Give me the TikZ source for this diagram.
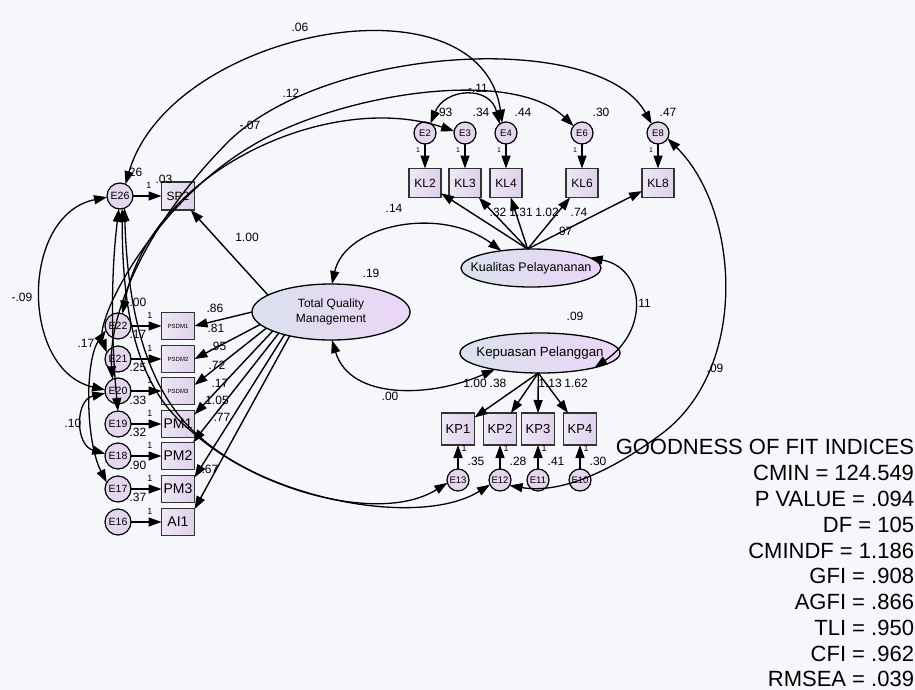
\documentclass[tikz,border=0pt]{standalone}
\usepackage{fontspec}
\setmainfont{Liberation Sans}
\usetikzlibrary{arrows.meta,shapes.geometric}

\definecolor{bg}{RGB}{246,247,251}
\definecolor{boxL}{RGB}{238,232,246}
\definecolor{boxR}{RGB}{222,208,236}
\definecolor{ellL}{RGB}{218,225,238}
\definecolor{ellR}{RGB}{236,214,246}
\definecolor{errfill}{RGB}{228,214,238}

\newcommand{\fsz}[1]{\fontsize{#1}{#1}\selectfont}

\begin{document}
\begin{tikzpicture}[x=1pt,y=-1pt,
  every node/.style={inner sep=0pt, outer sep=0pt},
  err/.style={circle, draw=black, line width=1.2pt, fill=errfill, minimum size=26pt, font=\fsz{10.5}},
  errs/.style={err, minimum size=22pt, font=\fsz{9.5}},
  obs/.style={rectangle, draw=black!80, line width=1.5pt, left color=boxL, right color=boxR, minimum width=33pt, minimum height=27pt},
  lat/.style={ellipse, draw=black, line width=1.3pt, left color=ellL, right color=ellR},
  lbl/.style={font=\fsz{12}},
  one/.style={font=\fsz{9}},
  gof/.style={anchor=east, font=\fsz{22}},
  tip/.style={Triangle[length=13pt,width=9pt]},
  load/.style={line width=1.4pt, -{Triangle[length=13pt,width=9pt]}},
  cov/.style={line width=1.3pt, {Triangle[length=13pt,width=9pt]}-{Triangle[length=13pt,width=9pt]}}
]
\useasboundingbox (0,0) rectangle (915,690);
\fill[bg] (0,0) rectangle (915,690);

% ---------- Total Quality Management indicators ----------
\node[err] (e26) at (120,196) {E26};
\node[obs, minimum height=28pt, font=\fsz{12}] (sp2) at (178,196) {SP2};
\node[err] (e22) at (118,326) {E22};
\node[err] (e21) at (118,359) {E21};
\node[err] (e20) at (118,391) {E20};
\node[err] (e19) at (118,424) {E19};
\node[err] (e18) at (118,456) {E18};
\node[err] (e17) at (118,489) {E17};
\node[err] (e16) at (118,522) {E16};
\node[obs, font=\fsz{6}] (psdm1) at (178,326) {PSDM1};
\node[obs, font=\fsz{6}] (psdm2) at (178,359) {PSDM2};
\node[obs, font=\fsz{6}] (psdm3) at (178,391) {PSDM3};
\node[obs, font=\fsz{14}] (pm1) at (178,424) {PM1};
\node[obs, font=\fsz{14}] (pm2) at (178,456) {PM2};
\node[obs, font=\fsz{14}] (pm3) at (178,489) {PM3};
\node[obs, font=\fsz{14}] (ai1) at (178,522) {AI1};

% ---------- latent variables ----------
\node[lat, minimum width=158pt, minimum height=56pt, align=center,
      font=\fontsize{12}{15}\selectfont] (tqm) at (331,312) {Total Quality\\Management};
\node[lat, minimum width=140pt, minimum height=38pt] (kual) at (531,268) {};
\node[font=\fsz{12.5}] (kualtxt) at (kual) {Kualitas Pelayananan};
\node[lat, minimum width=160pt, minimum height=40pt] (kep) at (540,353) {};
\node[font=\fsz{13.3}] (keptxt) at (kep) {Kepuasan Pelanggan};

% ---------- Kualitas Pelayananan indicators ----------
\foreach \n/\x in {2/425,3/465,4/506,6/582,8/658}{
  \node[obs, minimum width=32pt, minimum height=29pt, font=\fsz{12}] (kl\n) at (\x,183) {KL\n};
  \node[errs] (e\n) at (\x,133) {E\n};
}

% ---------- Kepuasan Pelanggan indicators ----------
\foreach \n/\e/\x in {1/13/458,2/12/500,3/11/538,4/10/580}{
  \node[obs, minimum width=33pt, minimum height=32pt, font=\fsz{13}] (kp\n) at (\x,429) {KP\n};
  \node[errs] (e\e) at (\x,480) {E\e};
}

% ---------- error terms to indicators ----------
\draw[load] (e26) -- (sp2);
\foreach \a/\b in {e22/psdm1,e21/psdm2,e20/psdm3,e19/pm1,e18/pm2,e17/pm3,e16/ai1,
                   e2/kl2,e3/kl3,e4/kl4,e6/kl6,e8/kl8,
                   e13/kp1,e12/kp2,e11/kp3,e10/kp4}
  \draw[load] (\a) -- (\b);

% ---------- loadings ----------
\draw[load] (tqm.165) -- (sp2);
\draw[load] (tqm.180) -- (psdm1.east);
\draw[load] (tqm.190) -- (psdm2.east);
\draw[load] (tqm.194) -- (psdm3.20);
\draw[load] (tqm.198) -- (pm1.30);
\draw[load] (tqm.202) -- (pm2.42);
\draw[load] (tqm.206) -- (pm3.35);
\draw[load] (tqm.210) -- (ai1.38);
\foreach \b in {kl2,kl3,kl4,kl6,kl8} \draw[load] (kual.100) -- (\b);
\foreach \b in {kp1,kp2,kp3,kp4} \draw[load] (kep.265) -- (\b);

% ---------- covariances between latent variables ----------
\draw[cov] (tqm.88) .. controls (345,225) and (440,205) .. (kual.150);
\draw[cov] (tqm.272) .. controls (350,400) and (430,398) .. (kep.200);
\draw[cov] (kual.10) .. controls (645,268) and (650,330) .. (kep.345);

% ---------- covariances between error terms ----------
\draw[cov] (e26.65) .. controls (170,30) and (480,-30) .. (e4.110);
\draw[cov] (e20.115) .. controls (108,320) and (140,230) .. (230,140)
                     .. controls (330,45) and (600,30) .. (e8.125);
\draw[cov] (e21.150) .. controls (95,320) and (150,210) .. (245,150)
                     .. controls (330,95) and (510,65) .. (e6.140);
\draw[cov] (e22.70) .. controls (150,170) and (330,90) .. (e3.170);
\draw[cov] (e2.60) .. controls (445,88) and (490,85) .. (e4.125);
\draw[cov] (e26.185) .. controls (20,215) and (20,370) .. (e20.175);
\draw[cov] (e22.200) .. controls (85,360) and (85,440) .. (e17.150);
\draw[cov] (e20.190) .. controls (75,400) and (75,445) .. (e18.170);
\draw[cov] (e26.265) .. controls (110,280) and (112,350) .. (e19.north);
\draw[cov] (e26.280) .. controls (122,320) and (140,390) .. (190,430)
                     .. controls (255,490) and (380,525) .. (e13.195);
\draw[cov] (e26.290) .. controls (128,320) and (150,395) .. (200,437)
                     .. controls (270,500) and (420,528) .. (e12.205);
\draw[cov] (e8.330) .. controls (740,210) and (750,370) .. (660,435)
                    .. controls (610,472) and (560,494) .. (e12.330);

% ---------- estimates ----------
\node[lbl] (v26) at (134,172) {.26};
\node[lbl] (v22) at (138,302) {.00};
\node[lbl] (v21) at (138,334) {.17};
\node[lbl] (v20) at (138,367) {.25};
\node[lbl] (v19) at (138,400) {.33};
\node[lbl] (v18) at (138,432) {.32};
\node[lbl] (v17) at (138,465) {.90};
\node[lbl] (v16) at (138,497) {.37};
\node[one] (o26) at (149,185) {1};
\node[lbl] (c03) at (164,179) {.03};
\foreach \y [count=\i] in {315,348,380,413,445,478,511} \node[one] (ol\i) at (150,\y) {1};
\node[lbl] (l100) at (247,237) {1.00};
\node[lbl] (l86) at (215,308) {.86};
\node[lbl] (l81) at (216,328) {.81};
\node[lbl] (l95) at (218,346) {.95};
\node[lbl] (l72) at (217,365) {.72};
\node[lbl] (l17) at (220,383) {.17};
\node[lbl] (l105) at (217,400) {1.05};
\node[lbl] (l77) at (222,417) {.77};
\node[lbl] (l67) at (210,469) {.67};
\node[lbl] (vtqm) at (371,273) {.19};
\node[lbl] (vkep) at (575,316) {.09};
\node[lbl] (c14) at (394,208) {.14};
\node[lbl] (c00) at (390,396) {.00};
\node[lbl] (c11) at (643,303) {.11};
\node[lbl] (c09r) at (715,368) {.09};
\node[lbl] (c09l) at (22,297) {-.09};
\node[lbl] (c17) at (86,343) {.17};
\node[lbl] (c10) at (73,423) {.10};
\node[lbl] (c06) at (300,27) {.06};
\node[lbl] (c12) at (291,93) {.12};
\node[lbl] (c07) at (250,125) {-.07};
\node[lbl] (c11t) at (478,88) {-.11};
\node[lbl] (v2) at (444,112) {.93};
\node[lbl] (v3) at (481,112) {.34};
\node[lbl] (v4) at (523,112) {.44};
\node[lbl] (v6) at (601,112) {.30};
\node[lbl] (v8) at (668,112) {.47};
\foreach \n/\x in {2/425,3/465,4/506,6/582,8/658} \node[one, font=\fsz{7}] (ok\n) at (\x-7,150) {1};
\node[lbl] (k32) at (498,212) {.32};
\node[lbl] (k131) at (521,212) {1.31};
\node[lbl] (k102) at (547,212) {1.02};
\node[lbl] (k74) at (579,212) {.74};
\node[lbl] (k97) at (564,231) {.97};
\node[lbl] (p100) at (475,383) {1.00};
\node[lbl] (p38) at (498,383) {.38};
\node[lbl] (p113) at (550,383) {1.13};
\node[lbl] (p162) at (576,383) {1.62};
\foreach \x/\v [count=\i] in {458/.35,500/.28,538/.41,580/.30}{
  \node[one] (op\i) at (\x+6,448) {1};
  \node[lbl] (vp\i) at (\x+18,461) {\v};
}

% ---------- fit indices ----------
\node[gof] (g0) at (914,447) {GOODNESS OF FIT INDICES};
\node[gof] (g1) at (914,473) {CMIN = 124.549};
\node[gof] (g2) at (914,499) {P VALUE = .094};
\node[gof] (g3) at (914,524.5) {DF = 105};
\node[gof] (g4) at (914,550.5) {CMINDF = 1.186};
\node[gof] (g5) at (914,576) {GFI = .908};
\node[gof] (g6) at (914,602) {AGFI = .866};
\node[gof] (g7) at (914,627.5) {TLI = .950};
\node[gof] (g8) at (914,653.5) {CFI = .962};
\node[gof] (g9) at (914,679) {RMSEA = .039};
\end{tikzpicture}
\end{document}
